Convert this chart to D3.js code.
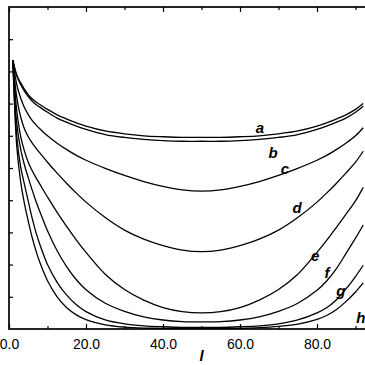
<!DOCTYPE html>
<html><head><meta charset="utf-8">
<script src="https://cdn.jsdelivr.net/npm/d3@7"></script>
<style>html,body{margin:0;padding:0;background:#fff;overflow:hidden}</style>
</head><body>
<svg id="c" width="365" height="365"></svg>
<script>
// Positions along the chain (x values)
const L = [1,2,3,4,5,6,7,8,10,12.5,15,17.5,20,25,30,35,40,45,50,55,60,65,70,75,80,82.5,85,87.5,90,92];
const seriesNames = ["a","b","c","d","e","f","g","h"];
const serA = [0.835,0.79,0.765,0.745,0.728,0.715,0.705,0.697,0.682,0.665,0.652,0.64,0.63,0.615,0.606,0.600,0.597,0.595,0.595,0.595,0.597,0.600,0.606,0.615,0.63,0.64,0.652,0.665,0.682,0.70];
const serB = [0.835,0.786,0.76,0.739,0.722,0.708,0.697,0.689,0.673,0.655,0.642,0.63,0.62,0.604,0.595,0.589,0.585,0.583,0.583,0.583,0.585,0.589,0.595,0.604,0.62,0.63,0.642,0.655,0.673,0.692];
const serC = [0.835,0.76,0.718,0.688,0.666,0.648,0.634,0.622,0.60,0.577,0.557,0.539,0.524,0.499,0.477,0.458,0.443,0.432,0.428,0.432,0.443,0.458,0.477,0.499,0.524,0.539,0.557,0.577,0.60,0.625];
const serD = [0.835,0.72,0.66,0.622,0.597,0.578,0.562,0.547,0.518,0.484,0.452,0.422,0.394,0.346,0.307,0.279,0.259,0.245,0.240,0.245,0.259,0.279,0.307,0.346,0.394,0.422,0.452,0.484,0.518,0.552];
const serE = [0.835,0.68,0.60,0.553,0.518,0.492,0.47,0.45,0.41,0.362,0.318,0.276,0.238,0.17,0.1225,0.0895,0.0665,0.054,0.05,0.054,0.0665,0.0895,0.1225,0.17,0.238,0.275,0.315,0.356,0.398,0.44];
const serF = [0.835,0.64,0.56,0.51,0.47,0.432,0.397,0.365,0.305,0.243,0.193,0.153,0.122,0.08,0.055,0.038,0.028,0.023,0.022,0.023,0.028,0.038,0.055,0.08,0.12,0.149,0.187,0.234,0.282,0.323];
const serG = [0.835,0.60,0.505,0.45,0.397,0.345,0.30,0.263,0.20,0.145,0.105,0.075,0.054,0.028,0.016,0.01,0.007,0.005,0.005,0.005,0.007,0.01,0.016,0.028,0.05,0.066,0.09,0.124,0.163,0.198];
const serH = [0.835,0.57,0.46,0.39,0.335,0.285,0.243,0.207,0.15,0.10,0.066,0.044,0.029,0.013,0.006,0.003,0.002,0.001,0.001,0.001,0.002,0.004,0.008,0.015,0.03,0.042,0.06,0.085,0.115,0.143];
const allSeries = [serA,serB,serC,serD,serE,serF,serG,serH];
// label anchor points in data space
const labelL = [65.2,68.6,71.7,74.8,79.5,82.6,86.2,91.4];
const labelV = [0.609,0.531,0.481,0.360,0.211,0.158,0.102,0.019];
const xTickLabels = ["0.0","20.0","40.0","60.0","80.0"];

const svg = d3.select("#c");
const x = d3.scaleLinear().domain([0,100]).range([9,394]);
const y = d3.scaleLinear().domain([0,1]).range([329,7]);

// frame
svg.append("rect").attr("x",x(0)).attr("y",y(1)).attr("width",x(100)-x(0)).attr("height",y(0)-y(1))
  .attr("fill","none").attr("stroke","#000").attr("stroke-width",1.7);

function styleTicks(g){ g.select(".domain").remove(); g.selectAll(".tick line").attr("stroke","#000").attr("stroke-width",1.2); }

// bottom axis: inward ticks
const gBottom = svg.append("g").attr("transform",`translate(0,${y(0)})`);
gBottom.call(d3.axisBottom(x).tickValues(d3.range(0,81,20)).tickSize(-5).tickFormat((d,i)=>xTickLabels[i]||"").tickPadding(10));
styleTicks(gBottom);
gBottom.selectAll("text").attr("font-family","Liberation Sans, Arial, sans-serif").attr("font-size",14).attr("fill","#000").attr("dy","0.68em");
const gBottomMinor = svg.append("g").attr("transform",`translate(0,${y(0)})`);
gBottomMinor.call(d3.axisBottom(x).tickValues(d3.range(10,101,20)).tickSize(-3).tickFormat(""));
styleTicks(gBottomMinor);

// top axis
const gTop = svg.append("g").attr("transform",`translate(0,${y(1)})`);
gTop.call(d3.axisTop(x).tickValues(d3.range(0,101,20)).tickSize(-5).tickFormat(""));
styleTicks(gTop);
const gTopMinor = svg.append("g").attr("transform",`translate(0,${y(1)})`);
gTopMinor.call(d3.axisTop(x).tickValues(d3.range(10,101,20)).tickSize(-3).tickFormat(""));
styleTicks(gTopMinor);

// left axis
const gLeft = svg.append("g").attr("transform",`translate(${x(0)},0)`);
gLeft.call(d3.axisLeft(y).tickValues(d3.range(0.1,1.0,0.1)).tickSize(-4).tickFormat(""));
styleTicks(gLeft);

// curves
const line = d3.line().x((d,i)=>x(L[i])).y(d=>y(d)).curve(d3.curveCatmullRom.alpha(0.5));
svg.append("g").selectAll("path").data(allSeries).join("path")
  .attr("d",line).attr("fill","none").attr("stroke","#000").attr("stroke-width",1.3);

// labels
svg.append("g").selectAll("text").data(seriesNames).join("text")
  .attr("x",(d,i)=>x(labelL[i])).attr("y",(d,i)=>y(labelV[i]))
  .attr("text-anchor","middle")
  .attr("font-family","Liberation Sans, Arial, sans-serif").attr("font-size",15)
  .attr("font-style","italic").attr("font-weight","bold").attr("fill","#000")
  .text(d=>d);

// axis title
svg.append("text").attr("x",x(50)).attr("y",361).attr("text-anchor","middle")
  .attr("font-family","Liberation Sans, Arial, sans-serif").attr("font-size",15)
  .attr("font-style","italic").attr("font-weight","bold").text("l");
</script>
</body></html>
